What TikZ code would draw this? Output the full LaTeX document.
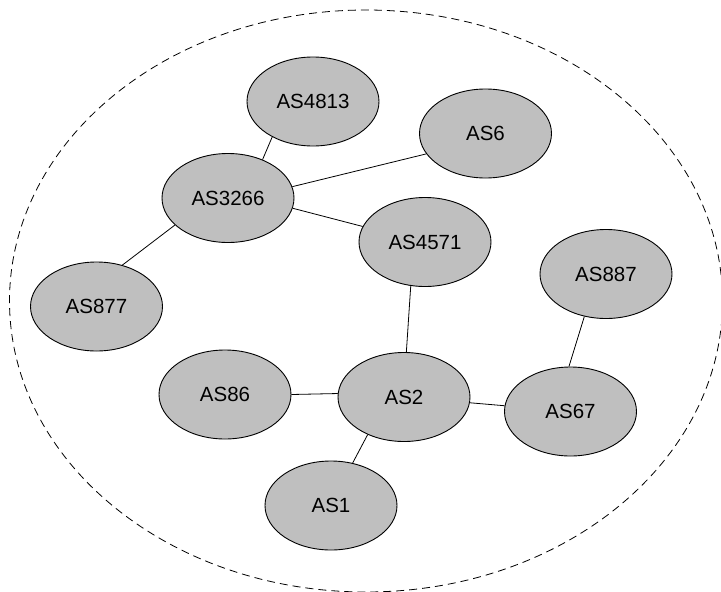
\documentclass[tikz,border=0pt]{standalone}
\usepackage{fontspec}
\setmainfont{Liberation Sans}
\usetikzlibrary{shapes.geometric}
\definecolor{asfill}{RGB}{191,191,191}
\tikzset{
  asnode/.style={ellipse, draw=black, line width=0.9pt, fill=asfill,
    minimum width=132pt, minimum height=89pt, inner sep=0pt,
    font=\fontsize{20.5}{24}\selectfont},
  link/.style={draw=black, line width=0.8pt},
  region/.style={draw=black, line width=0.8pt, dash pattern=on 8pt off 5pt}
}
\begin{document}
\begin{tikzpicture}[x=1pt,y=-1pt]
  \useasboundingbox (0,0) rectangle (721,592);
  % enclosing domain
  \node[region, ellipse, minimum width=713pt, minimum height=582pt, inner sep=0pt] (dom) at (366,301) {};
  % autonomous systems
  \node[asnode] (as4813) at (313,101.5) {AS4813};
  \node[asnode] (as6)    at (485.5,133.5) {AS6};
  \node[asnode] (as3266) at (228,198) {AS3266};
  \node[asnode] (as4571) at (425,242) {AS4571};
  \node[asnode] (as877)  at (96.5,306.5) {AS877};
  \node[asnode] (as887)  at (606,274) {AS887};
  \node[asnode] (as86)   at (225,394.5) {AS86};
  \node[asnode] (as2)    at (404,397) {AS2};
  \node[asnode] (as67)   at (570.5,411.5) {AS67};
  \node[asnode] (as1)    at (331,505.5) {AS1};
  % links
  \draw[link] (as4813.221) -- (as3266.48);
  \draw[link] (as3266.10) -- (as6.199);
  \draw[link] (as3266.351) -- (as4571.166);
  \draw[link] (as3266.207) -- (as877.58);
  \draw[link] (as4571.252) -- (as2.87);
  \draw[link] (as86.0) -- (as2.177);
  \draw[link] (as2.355) -- (as67.175);
  \draw[link] (as2.226) -- (as1.63);
  \draw[link] (as887.243) -- (as67.92);
\end{tikzpicture}
\end{document}
